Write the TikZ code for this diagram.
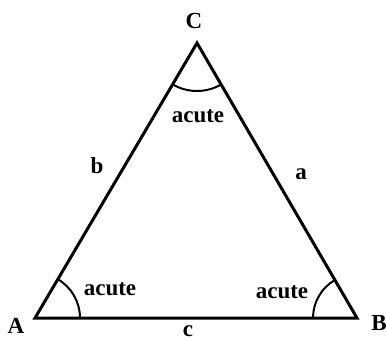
\documentclass[tikz,border=0pt]{standalone}
\usepackage{fontspec}
\setmainfont{Liberation Serif}
\usetikzlibrary{calc}
\begin{document}
\begin{tikzpicture}[x=1pt,y=-1pt,
  lbl/.style={font=\fontsize{23}{25}\selectfont\bfseries, inner sep=0pt},
  side/.style={line width=3pt, line join=miter},
  anglearc/.style={line width=2pt}]
\useasboundingbox (0,0) rectangle (386,341);
\coordinate (A) at (35,318);
\coordinate (B) at (357,318);
\coordinate (C) at (197,43);
\draw[side] (A) -- (B) -- (C) -- cycle;
% angle arcs
\draw[anglearc] ($(A)+(0:45)$) arc[start angle=0, end angle=-59.5, radius=45];
\draw[anglearc] ($(B)+(-120.2:44)$) arc[start angle=-120.2, end angle=-180, radius=44];
\draw[anglearc] ($(C)+(59.8:48)$) arc[start angle=59.8, end angle=120.5, radius=48];
% labels
\node[lbl] (lA) at (16,326) {A};
\node[lbl] (lB) at (379,323) {B};
\node[lbl] (lC) at (194,21) {C};
\node[lbl] (la) at (301,174) {a};
\node[lbl] (lb) at (97,166) {b};
\node[lbl] (lc) at (188,331) {c};
\node[lbl] (acA) at (110,289) {acute};
\node[lbl] (acB) at (282,292) {acute};
\node[lbl] (acC) at (198,116) {acute};
\end{tikzpicture}
\end{document}
